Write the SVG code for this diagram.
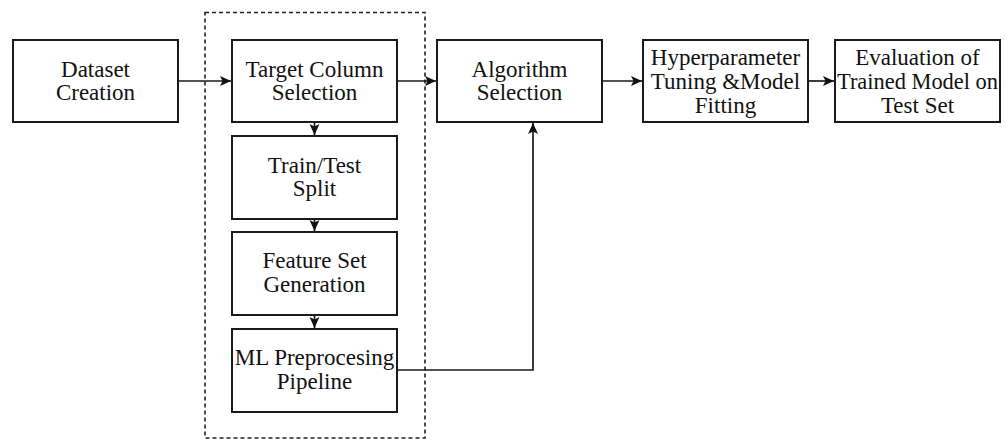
<svg xmlns="http://www.w3.org/2000/svg" width="1008" height="440" viewBox="0 0 1008 440">
<style>
.box{fill:#fff;stroke:#1a1a1a;stroke-width:2}
.t{font-family:"Liberation Serif","Times New Roman",serif;font-size:23px;fill:#111;text-anchor:middle}
.c{fill:none;stroke:#1a1a1a;stroke-width:1.7}
.dash{fill:none;stroke:#222;stroke-width:1.6;stroke-dasharray:4 3}
</style>
<defs>
<marker id="ah" markerUnits="userSpaceOnUse" markerWidth="12" markerHeight="12" refX="11" refY="6" orient="auto">
<path d="M0,1 L11,6 L0,11 L2.5,6 z" fill="#111"/>
</marker>
</defs>
<rect class="dash" x="205" y="12.5" width="220" height="425.5"/>
<g id="connectors">
<line class="c" x1="178" y1="81" x2="231" y2="81" marker-end="url(#ah)"/>
<line class="c" x1="397" y1="81" x2="436" y2="81" marker-end="url(#ah)"/>
<line class="c" x1="602" y1="81" x2="642" y2="81" marker-end="url(#ah)"/>
<line class="c" x1="808" y1="81" x2="834" y2="81" marker-end="url(#ah)"/>
<line class="c" x1="314.5" y1="122" x2="314.5" y2="135" marker-end="url(#ah)"/>
<line class="c" x1="314.5" y1="219" x2="314.5" y2="231" marker-end="url(#ah)"/>
<line class="c" x1="314.5" y1="315" x2="314.5" y2="328" marker-end="url(#ah)"/>
<polyline class="c" points="397,370 533,370 533,123" marker-end="url(#ah)"/>
</g>
<g id="dataset"><rect class="box" x="13" y="40" width="165" height="82"/>
<text class="t" x="95.5" y="76.5">Dataset</text><text class="t" x="95.5" y="100">Creation</text></g>
<g id="target"><rect class="box" x="232" y="40" width="165" height="82"/>
<text class="t" x="314.5" y="76.5">Target Column</text><text class="t" x="314.5" y="100">Selection</text></g>
<g id="split"><rect class="box" x="232" y="136" width="165" height="83"/>
<text class="t" x="314.5" y="172.5">Train/Test</text><text class="t" x="314.5" y="196">Split</text></g>
<g id="feature"><rect class="box" x="232" y="232" width="165" height="83"/>
<text class="t" x="314.5" y="268">Feature Set</text><text class="t" x="314.5" y="291.5">Generation</text></g>
<g id="ml"><rect class="box" x="232" y="329" width="165" height="83"/>
<text class="t" x="314.5" y="365">ML Preprocesing</text><text class="t" x="314.5" y="388.5">Pipeline</text></g>
<g id="algorithm"><rect class="box" x="437" y="40" width="165" height="82"/>
<text class="t" x="519.5" y="76.5">Algorithm</text><text class="t" x="519.5" y="100">Selection</text></g>
<g id="hyper"><rect class="box" x="643" y="40" width="165" height="82"/>
<text class="t" x="725.5" y="64.5">Hyperparameter</text><text class="t" x="725.5" y="88.5">Tuning &amp;Model</text><text class="t" x="725.5" y="112.5">Fitting</text></g>
<g id="eval"><rect class="box" x="835" y="40" width="165" height="82"/>
<text class="t" x="917.5" y="64.5">Evaluation of</text><text class="t" x="917.5" y="88.5" textLength="161" lengthAdjust="spacingAndGlyphs">Trained Model on</text><text class="t" x="917.5" y="112.5">Test Set</text></g>
</svg>
